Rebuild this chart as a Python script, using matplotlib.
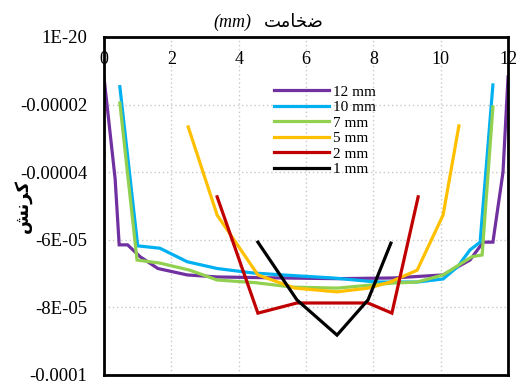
import matplotlib.pyplot as plt

plt.rcParams['font.family'] = ['Liberation Serif', 'DejaVu Sans']

# -------------------------------
# data
# -------------------------------
x_12 = [0, 0.33, 0.45, 0.7, 1.07, 1.6, 2.47, 3.36, 5.3, 6.9, 8.58, 10.07, 10.87, 11.26, 11.55, 11.85, 12]
y_12 = [-1.2e-5, -4.2e-5, -6.15e-5, -6.15e-5, -6.5e-5, -6.85e-5, -7.04e-5, -7.1e-5, -7.13e-5, -7.15e-5,
        -7.13e-5, -7.04e-5, -6.6e-5, -6.07e-5, -6.07e-5, -4.0e-5, -1.18e-5]

x_10 = [0.47, 1.0, 1.66, 2.47, 3.36, 4.4, 5.3, 6.8, 8.1, 9.3, 10.07, 10.5, 10.87, 11.17, 11.55]
y_10 = [-1.47e-5, -6.18e-5, -6.25e-5, -6.65e-5, -6.85e-5, -6.98e-5, -7.04e-5, -7.13e-5, -7.25e-5,
        -7.25e-5, -7.16e-5, -6.8e-5, -6.3e-5, -6.07e-5, -1.42e-5]

x_7 = [0.47, 0.98, 1.66, 2.55, 3.36, 4.5, 5.6, 6.92, 8.58, 9.3, 10.07, 10.93, 11.23, 11.55]
y_7 = [-1.95e-5, -6.6e-5, -6.69e-5, -6.9e-5, -7.19e-5, -7.27e-5, -7.4e-5, -7.43e-5, -7.28e-5,
       -7.25e-5, -7.04e-5, -6.5e-5, -6.45e-5, -2.07e-5]

x_5 = [2.5, 3.36, 4.57, 5.67, 6.92, 7.85, 8.5, 9.3, 10.07, 10.54]
y_5 = [-2.66e-5, -5.27e-5, -7.04e-5, -7.43e-5, -7.54e-5, -7.43e-5, -7.25e-5, -6.9e-5, -5.27e-5, -2.63e-5]

x_2 = [3.36, 4.57, 5.73, 6.9, 7.84, 8.55, 9.33]
y_2 = [-4.73e-5, -8.17e-5, -7.87e-5, -7.87e-5, -7.87e-5, -8.17e-5, -4.73e-5]

x_1 = [4.57, 5.73, 6.92, 7.84, 8.52]
y_1 = [-6.07e-5, -7.78e-5, -8.82e-5, -7.78e-5, -6.1e-5]

series = [
    (x_12, y_12, "12 mm", "#7030A0"),
    (x_10, y_10, "10 mm", "#00B0F0"),
    (x_7, y_7, "7 mm", "#92D050"),
    (x_5, y_5, "5 mm", "#FFC000"),
    (x_2, y_2, "2 mm", "#C00000"),
    (x_1, y_1, "1 mm", "#000000"),
]

x_ticks = [0, 2, 4, 6, 8, 10, 12]
y_ticks = [0, -2e-5, -4e-5, -6e-5, -8e-5, -1e-4]
y_tick_labels = ["1E-20", "-0.00002", "-0.00004", "-6E-05", "-8E-05", "-0.0001"]

# Persian text in presentation forms (visual order)
title_fa = "\uFE96\uFEE3\uFE8E\uFEA8\uFEBF"   # ضخامت
ylabel_fa = "\uFEB6\uFEE7\uFEAE\uFB90"        # کرنش

# -------------------------------
# plot
# -------------------------------
fig = plt.figure(figsize=(5.16, 3.85), dpi=100)
ax = fig.add_axes([0.2016, 0.026, 0.783, 0.878])

for xs, ys, lab, col in series:
    ax.plot(xs, ys, color=col, linewidth=2.3, label=lab, solid_joinstyle='miter')

ax.set_xlim(0, 12)
ax.set_ylim(-1e-4, 0)
ax.set_xticks(x_ticks)
ax.set_yticks(y_ticks)
ax.set_yticklabels(y_tick_labels)

ax.xaxis.tick_top()
ax.tick_params(axis='x', length=0, pad=-22, labelsize=13)
ax.tick_params(axis='y', length=0, pad=12, labelsize=13.5)

ax.grid(True, linestyle=(0, (1, 2)), color='#c8c8c8', linewidth=1)
for s in ax.spines.values():
    s.set_linewidth(2)
    s.set_color('black')

# title: "(mm)" in italics on the left, Persian word on the right
fig.text(0.487, 0.943, "(mm)", fontsize=13, style='italic', ha='right', va='center')
fig.text(0.512, 0.943, title_fa, fontsize=13, ha='left', va='center', family=['DejaVu Sans'])

ax.set_ylabel(ylabel_fa, fontsize=13, fontweight='bold')
ax.yaxis.set_label_coords(-0.178, 0.5)

ax.legend(loc='upper left', bbox_to_anchor=(0.395, 0.89), frameon=False, fontsize=11,
          handlelength=3.6, labelspacing=0.12, handletextpad=0.25, borderpad=0.2)

plt.savefig("out.png", dpi=100)
